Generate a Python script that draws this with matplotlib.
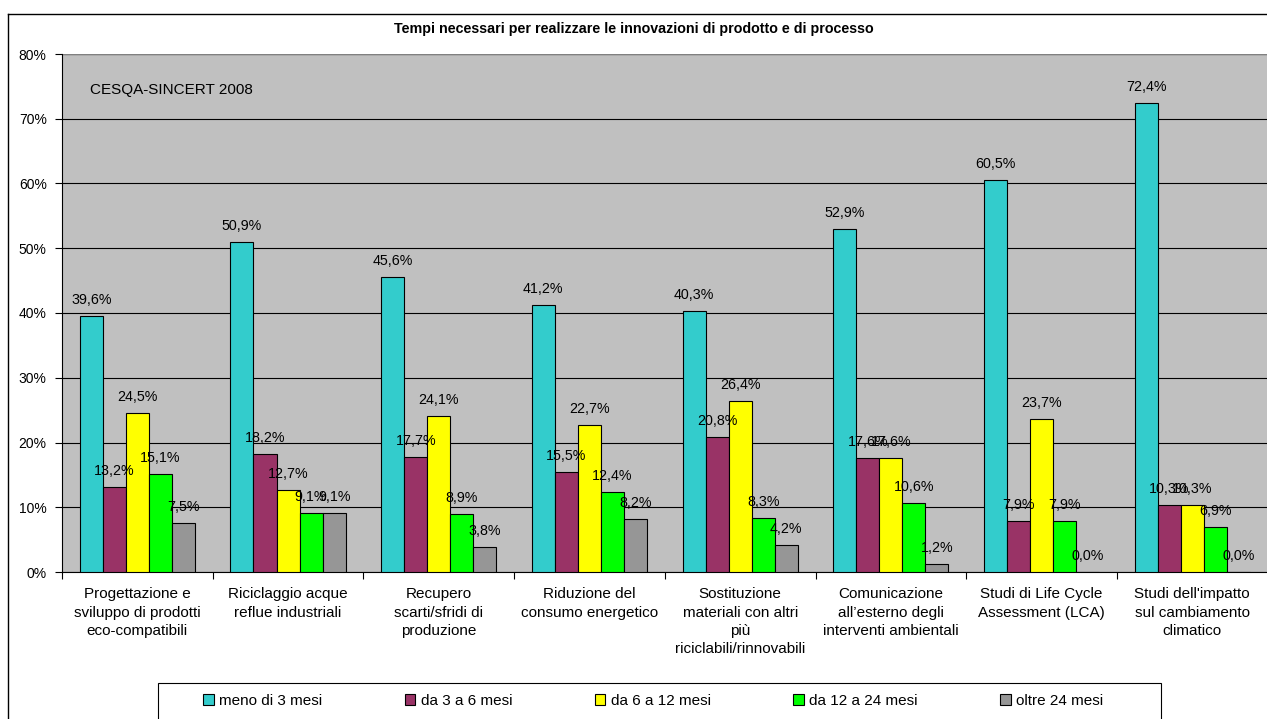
import matplotlib
matplotlib.use("Agg")
import matplotlib.pyplot as plt
from matplotlib.lines import Line2D
from matplotlib.patches import Rectangle
import numpy as np

plt.rcParams['font.family'] = ['Liberation Sans', 'DejaVu Sans']

categories = ["Progettazione e\nsviluppo di prodotti\neco-compatibili",
              "Riciclaggio acque\nreflue industriali",
              "Recupero\nscarti/sfridi di\nproduzione",
              "Riduzione del\nconsumo energetico",
              "Sostituzione\nmateriali con altri\npiù\nriciclabili/rinnovabili",
              "Comunicazione\nall\u2019esterno degli\ninterventi ambientali",
              "Studi di Life Cycle\nAssessment (LCA)",
              "Studi dell'impatto\nsul cambiamento\nclimatico"]
series_names = ["meno di 3 mesi", "da 3 a 6 mesi", "da 6 a 12 mesi",
                "da 12 a 24 mesi", "oltre 24 mesi"]
meno_3 = [39.6, 50.9, 45.6, 41.2, 40.3, 52.9, 60.5, 72.4]
da_3_6 = [13.2, 18.2, 17.7, 15.5, 20.8, 17.6, 7.9, 10.3]
da_6_12 = [24.5, 12.7, 24.1, 22.7, 26.4, 17.6, 23.7, 10.3]
da_12_24 = [15.1, 9.1, 8.9, 12.4, 8.3, 10.6, 7.9, 6.9]
oltre_24 = [7.5, 9.1, 3.8, 8.2, 4.2, 1.2, 0.0, 0.0]
colors = ['#33CCCC', '#993366', '#FFFF00', '#00FF00', '#969696']

series = [meno_3, da_3_6, da_6_12, da_12_24, oltre_24]

W, H = 1267, 719
fig = plt.figure(figsize=(W/100, H/100), dpi=100)
ax = fig.add_axes([62/W, (H-572)/H, 8*150.7/W, 518/H])
ax.set_facecolor('#C0C0C0')

# outer chart frame (only top and left edges are visible)
fig.add_artist(Line2D([8/W, 8/W], [0, 1-14/H], color='black', lw=1.0))
fig.add_artist(Line2D([8/W, 1], [1-14/H, 1-14/H], color='black', lw=1.0))

w = 0.153
centers = np.arange(len(categories)) + 0.5
for k, (vals, name, c) in enumerate(zip(series, series_names, colors)):
    xs = centers + (k - 2) * w
    ax.bar(xs, vals, width=w, color=c, edgecolor='black', linewidth=0.8,
           label=name, zorder=3)
    for x, v in zip(xs, vals):
        ax.annotate(('%.1f%%' % v).replace('.', ','), (x, v),
                    xytext=(0, 6.5), textcoords='offset points',
                    ha='center', va='bottom', fontsize=10.3, zorder=5)

ax.set_xlim(0, len(categories))
ax.set_ylim(0, 80)
ax.set_yticks(np.arange(0, 81, 10))
ax.set_yticklabels(['%d%%' % t for t in range(0, 81, 10)], fontsize=10)
ax.yaxis.grid(True, color='black', lw=0.8, zorder=0)
ax.set_axisbelow(True)

ax.set_xticks(np.arange(0, len(categories) + 1))
ax.set_xticklabels([])
ax.set_xticks(centers, minor=True)
ax.set_xticklabels(categories, minor=True, fontsize=11, linespacing=1.4)
ax.tick_params(axis='x', which='minor', length=0, pad=11)
ax.tick_params(axis='x', which='major', length=5, width=0.8, direction='out')
ax.tick_params(axis='y', length=5, width=0.8, direction='out', pad=6)

for s in ['top', 'right']:
    ax.spines[s].set_visible(False)
ax.spines['left'].set_linewidth(0.8)
ax.spines['bottom'].set_linewidth(0.8)
ax.axhline(80, color='#808080', lw=1.0, zorder=1)

ax.text(28/1206, 74.5/80, 'CESQA-SINCERT 2008', transform=ax.transAxes,
        fontsize=11, va='center', ha='left')

fig.text(0.5, 1 - 29/H, 'Tempi necessari per realizzare le innovazioni di prodotto e di processo',
         ha='center', va='center', fontsize=10.3, fontweight='bold')

# legend frame runs off the bottom of the picture
fig.add_artist(Rectangle((158/W, -0.05), (1161-158)/W, 0.05 + (H-683)/H,
                         transform=fig.transFigure, fill=False,
                         edgecolor='black', lw=0.8))
leg = fig.legend(loc='center left', ncol=5,
                 bbox_to_anchor=(203/W, 1 - 701/H),
                 fontsize=11, frameon=False,
                 handlelength=0.7, handleheight=0.7, handletextpad=0.35,
                 columnspacing=5.4, borderpad=0, borderaxespad=0)

fig.savefig('out.png', dpi=100)
